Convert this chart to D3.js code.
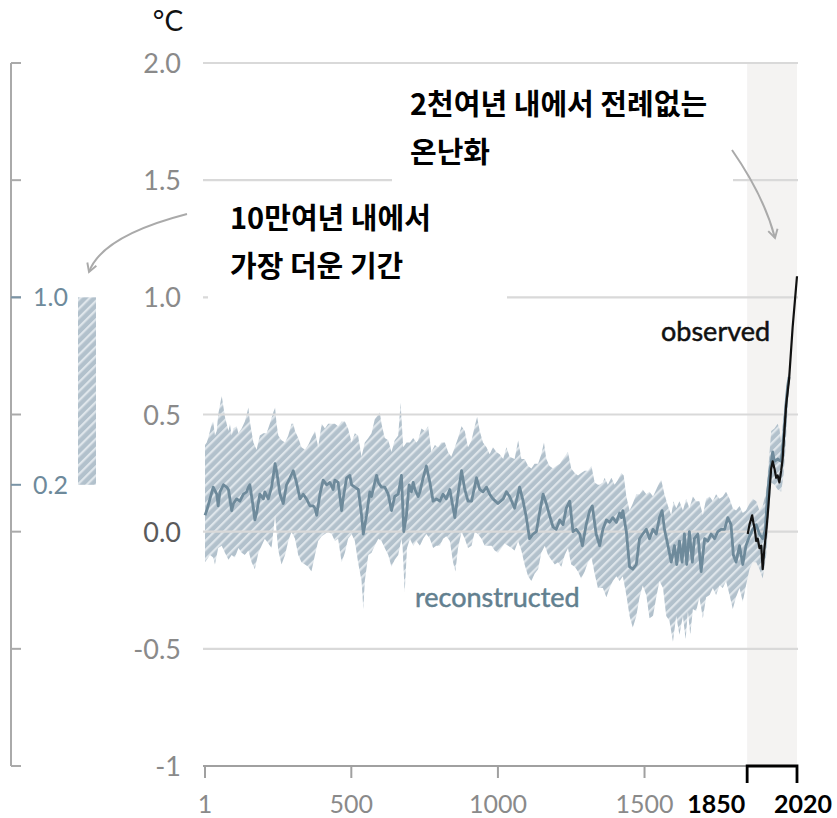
<!DOCTYPE html>
<html>
<head>
<meta charset="utf-8">
<script src="https://cdn.jsdelivr.net/npm/d3@7"></script>
<style>
  html, body { margin: 0; padding: 0; background: #ffffff; }
  svg { display: block; }
</style>
</head>
<body>
<script>
// ---------- data ----------
const yTickValues = [2.0, 1.5, 1.0, 0.5, 0.0, -0.5, -1];
const yTickLabels = ["2.0", "1.5", "1.0", "0.5", "0.0", "-0.5", "-1"];
const xTickValues = [1, 500, 1000, 1500];
const xTickLabels = ["1", "500", "1000", "1500"];
const periodYears = [1850, 2020];
const periodLabels = ["1850", "2020"];
const warmestRange = [0.2, 1.0];       // 10만여년 내 가장 더운 기간
const warmestLabels = ["1.0", "0.2"];

const reconstructed = [
[1,0.07],[7,0.09],[18,0.14],[29,0.19],[41,0.16],[46,0.11],[52,0.17],[64,0.20],[75,0.19],[81,0.18],[92,0.09],[98,0.12],[109,0.14],[120,0.13],[132,0.16],[143,0.17],[149,0.19],[154,0.20],[166,0.10],[171,0.05],[177,0.08],[188,0.16],[200,0.14],[205,0.17],[217,0.14],[228,0.19],[240,0.29],[245,0.26],[257,0.16],[268,0.12],[279,0.20],[291,0.23],[302,0.26],[313,0.21],[325,0.14],[336,0.16],[347,0.14],[359,0.11],[370,0.11],[376,0.10],[382,0.07],[393,0.16],[404,0.22],[416,0.20],[427,0.21],[438,0.18],[444,0.22],[455,0.21],[467,0.09],[472,0.14],[484,0.23],[495,0.24],[501,0.20],[512,0.19],[524,0.18],[535,0.07],[541,-0.01],[552,0.07],[563,0.17],[569,0.15],[580,0.21],[586,0.24],[592,0.21],[603,0.19],[614,0.19],[626,0.16],[637,0.09],[648,0.15],[660,0.16],[671,0.24],
[679,0.00],[688,0.07],[697,0.20],[705,0.17],[711,0.21],[717,0.18],[728,0.15],[734,0.17],[745,0.23],[756,0.28],[768,0.21],[779,0.13],[790,0.14],[802,0.13],[813,0.16],[824,0.14],[836,0.18],[853,0.06],[864,0.16],[876,0.26],[887,0.18],[898,0.13],[910,0.13],[927,0.23],[938,0.18],[949,0.17],[961,0.19],[972,0.16],[983,0.14],[1000,0.12],[1018,0.14],[1029,0.17],[1040,0.15],[1057,0.10],[1074,0.19],[1086,0.13],[1097,0.06],[1108,-0.03],[1120,-0.01],[1131,0.00],[1142,0.08],[1154,0.16],[1165,0.12],[1176,0.07],[1188,0.02],[1199,0.01],[1211,0.05],[1222,0.03],[1233,0.10],[1245,0.13],[1256,0.00],[1267,0.01],[1279,-0.01],[1288,-0.06],[1301,0.03],[1313,0.09],[1322,0.11],[1335,-0.01],
[1347,-0.06],[1358,0.01],[1370,0.05],[1381,0.04],[1392,0.06],[1404,0.04],[1415,0.08],[1421,0.06],[1426,0.09],[1438,0.00],[1449,-0.15],[1460,-0.16],[1472,-0.14],[1483,-0.03],[1494,-0.01],[1506,0.01],[1517,-0.03],[1529,0.01],[1540,-0.01],[1551,0.06],[1560,0.09],[1568,0.01],[1580,-0.06],[1591,-0.13],[1602,-0.06],[1610,-0.14],[1619,-0.04],[1628,-0.13],[1636,-0.01],[1644,-0.14],[1653,0.00],[1663,-0.13],[1670,-0.03],[1682,-0.01],[1693,-0.17],[1705,-0.03],[1716,-0.04],[1727,-0.01],[1739,-0.03],[1750,0.00],[1761,0.01],[1773,0.01],[1784,0.06],[1795,0.03],[1803,-0.10],[1812,-0.13],[1824,-0.06],[1835,-0.14],[1846,-0.06],[1858,-0.02],[1869,0.01],[1881,0.03],[1892,-0.01],[1903,-0.03],[1912,0.01],[1920,0.17],[1928,0.26],[1937,0.34],[1943,0.30],[1954,0.31],[1966,0.30],[1971,0.36],[1977,0.44],[1983,0.55],[1988,0.62],[1993,0.66]
];

const bandUpper = [
[1,0.37],[7,0.38],[12,0.40],[24,0.46],[29,0.47],[35,0.41],[41,0.43],[46,0.50],[58,0.58],[69,0.49],[81,0.43],[86,0.46],[92,0.41],[98,0.44],[109,0.45],[115,0.42],[126,0.44],[137,0.47],[149,0.53],[154,0.47],[166,0.38],[177,0.35],[188,0.41],[200,0.42],[211,0.42],[222,0.46],[234,0.51],[240,0.53],[245,0.46],[251,0.41],[262,0.39],[274,0.38],[285,0.41],[296,0.46],[302,0.46],[308,0.43],[319,0.40],[330,0.36],[342,0.35],[353,0.37],[364,0.40],[376,0.43],[387,0.36],[399,0.46],[410,0.44],[421,0.46],[433,0.46],[444,0.46],[455,0.45],[467,0.47],[478,0.47],[489,0.44],[501,0.38],[512,0.42],[523,0.41],[535,0.32],[546,0.38],[558,0.40],[569,0.42],[580,0.48],[592,0.50],[597,0.51],[603,0.46],[614,0.40],[626,0.39],[637,0.34],[648,0.39],[660,0.41],[668,0.55],
[677,0.36],[688,0.38],[700,0.38],[711,0.40],[722,0.38],[728,0.39],[739,0.44],[751,0.43],[762,0.45],[773,0.34],[785,0.37],[796,0.36],[807,0.38],[819,0.38],[830,0.34],[841,0.32],[853,0.36],[864,0.40],[876,0.45],[887,0.43],[898,0.36],[910,0.39],[921,0.45],[929,0.49],[938,0.43],[949,0.38],[961,0.36],[972,0.33],[983,0.36],[995,0.34],[1006,0.33],[1018,0.31],[1029,0.36],[1040,0.32],[1057,0.31],[1069,0.39],[1080,0.31],[1091,0.31],[1103,0.28],[1114,0.27],[1125,0.29],[1137,0.29],[1148,0.33],[1157,0.38],[1165,0.31],[1176,0.28],[1188,0.27],[1199,0.28],[1211,0.29],[1222,0.31],[1239,0.34],[1250,0.27],[1262,0.25],[1273,0.24],[1284,0.25],[1296,0.26],[1307,0.26],[1319,0.28],[1330,0.21],[1341,0.20],
[1347,0.20],[1358,0.21],[1364,0.23],[1375,0.20],[1387,0.23],[1398,0.20],[1409,0.22],[1421,0.25],[1429,0.24],[1438,0.15],[1449,0.09],[1460,0.12],[1472,0.16],[1483,0.16],[1494,0.18],[1506,0.16],[1517,0.17],[1529,0.15],[1540,0.18],[1551,0.21],[1557,0.22],[1568,0.16],[1580,0.11],[1591,0.07],[1599,0.13],[1608,0.10],[1619,0.13],[1631,0.09],[1642,0.14],[1653,0.10],[1665,0.15],[1676,0.13],[1687,0.13],[1699,0.07],[1710,0.14],[1722,0.15],[1733,0.13],[1744,0.16],[1756,0.14],[1767,0.15],[1778,0.17],[1790,0.14],[1801,0.10],[1812,0.09],[1824,0.11],[1835,0.08],[1846,0.09],[1858,0.12],[1869,0.14],[1881,0.13],[1892,0.09],[1903,0.11],[1915,0.17],[1924,0.30],[1932,0.43],[1943,0.44],[1954,0.46],[1960,0.44],[1966,0.38],[1971,0.46],[1977,0.54],[1985,0.62],[1993,0.68]
];

const bandLower = [
[1,-0.13],[7,-0.12],[18,-0.10],[29,-0.11],[35,-0.14],[46,-0.07],[58,-0.06],[69,-0.09],[81,-0.12],[92,-0.10],[103,-0.11],[115,-0.07],[126,-0.09],[137,-0.10],[149,-0.08],[160,-0.13],[171,-0.16],[183,-0.09],[194,-0.06],[205,-0.03],[217,-0.05],[228,-0.07],[240,0.07],[251,-0.08],[262,-0.14],[274,-0.10],[285,-0.04],[296,0.00],[308,-0.03],[319,-0.10],[330,-0.13],[342,-0.14],[353,-0.15],[364,-0.17],[376,-0.10],[387,-0.04],[399,-0.02],[410,-0.01],[421,0.00],[433,-0.01],[444,-0.04],[455,-0.03],[467,-0.13],[478,-0.09],[489,-0.03],[501,-0.01],[512,-0.04],[523,-0.13],[535,-0.21],[541,-0.33],[546,-0.21],[558,-0.10],[569,-0.09],[580,-0.06],[592,-0.03],[603,-0.04],[614,-0.07],[626,-0.10],[637,-0.15],[648,-0.12],[660,-0.10],[671,-0.03],
[675,-0.07],[682,-0.26],[690,-0.07],[700,-0.03],[711,-0.06],[722,-0.04],[734,-0.06],[745,-0.03],[756,-0.01],[768,-0.03],[779,-0.07],[790,-0.06],[802,-0.06],[813,-0.03],[824,-0.02],[836,-0.04],[847,-0.13],[855,-0.17],[864,-0.07],[876,0.00],[887,-0.03],[898,-0.07],[910,-0.06],[921,0.00],[932,-0.01],[944,-0.03],[955,-0.06],[966,-0.06],[978,-0.06],[989,-0.08],[1000,-0.09],[1012,-0.07],[1023,-0.05],[1035,-0.06],[1046,-0.07],[1057,-0.08],[1069,-0.04],[1080,-0.08],[1091,-0.14],[1103,-0.19],[1114,-0.21],[1125,-0.18],[1137,-0.16],[1148,-0.09],[1160,-0.06],[1171,-0.10],[1182,-0.12],[1194,-0.14],[1205,-0.13],[1216,-0.15],[1228,-0.10],[1239,-0.07],[1250,-0.14],[1262,-0.15],[1273,-0.17],[1284,-0.20],[1296,-0.17],[1307,-0.13],[1319,-0.11],[1330,-0.18],[1341,-0.24],
[1358,-0.24],[1370,-0.28],[1381,-0.24],[1392,-0.21],[1404,-0.19],[1415,-0.21],[1426,-0.19],[1438,-0.27],[1449,-0.36],[1460,-0.41],[1472,-0.36],[1483,-0.28],[1494,-0.23],[1506,-0.27],[1517,-0.37],[1529,-0.36],[1540,-0.28],[1551,-0.21],[1563,-0.24],[1574,-0.36],[1585,-0.38],[1597,-0.47],[1608,-0.36],[1619,-0.44],[1631,-0.36],[1640,-0.46],[1648,-0.34],[1656,-0.44],[1665,-0.33],[1676,-0.34],[1687,-0.28],[1699,-0.37],[1710,-0.28],[1722,-0.27],[1733,-0.24],[1744,-0.27],[1756,-0.23],[1767,-0.24],[1778,-0.21],[1790,-0.27],[1801,-0.33],[1812,-0.28],[1824,-0.24],[1835,-0.30],[1846,-0.23],[1858,-0.16],[1869,-0.13],[1881,-0.13],[1892,-0.16],[1903,-0.20],[1915,-0.10],[1924,0.07],[1932,0.21],[1943,0.20],[1954,0.18],[1966,0.17],[1974,0.24],[1981,0.36],[1987,0.50],[1993,0.63]
];

const observed = [
[1852,-0.01],[1858,0.03],[1867,0.07],[1871,0.04],[1876,0.01],[1881,-0.04],[1886,-0.03],[1892,-0.07],[1898,-0.06],[1903,-0.16],[1909,-0.07],[1915,0.00],[1920,0.07],[1926,0.17],[1932,0.27],[1937,0.30],[1943,0.27],[1949,0.23],[1954,0.24],[1960,0.21],[1966,0.26],[1971,0.31],[1977,0.43],[1983,0.54],[1993,0.65],[2005,0.87],[2020,1.09]
];

const textUpper = ["2천여년 내에서 전례없는", "온난화"];
const textLower = ["10만여년 내에서", "가장 더운 기간"];

// ---------- drawing ----------
const W = 837, H = 818;
const svg = d3.select("body").append("svg").attr("width", W).attr("height", H);
const defs = svg.append("defs");

const pat = defs.append("pattern").attr("id", "hatch")
  .attr("patternUnits", "userSpaceOnUse").attr("width", 6.5).attr("height", 6.5)
  .attr("patternTransform", "rotate(45)");
pat.append("rect").attr("width", 6.5).attr("height", 6.5).attr("fill", "#b2c1cc");
pat.append("rect").attr("width", 2.2).attr("height", 6.5).attr("fill", "#dfe6eb");

defs.append("marker").attr("id", "chev")
  .attr("viewBox", "0 0 10 10").attr("refX", 8).attr("refY", 5)
  .attr("markerWidth", 12).attr("markerHeight", 12).attr("markerUnits", "userSpaceOnUse")
  .attr("orient", "auto")
  .append("path").attr("d", "M1,1 L8,5 L1,9").attr("fill", "none")
  .attr("stroke", "#aaaaaa").attr("stroke-width", 1.6);

const x = d3.scaleLinear().domain([1, 2020]).range([205, 797]);
const y = d3.scaleLinear().domain([-1, 2]).range([766, 63]);

const latin = "Lato, 'Open Sans', sans-serif";

// shaded industrial period
svg.append("rect")
  .attr("x", x(periodYears[0])).attr("y", y(2))
  .attr("width", x(periodYears[1]) - x(periodYears[0]))
  .attr("height", y(-1) - y(2))
  .attr("fill", "#f4f3f2");

// uncertainty band
const line = d3.line().x(d => x(d[0])).y(d => y(d[1]));
const bandPts = bandUpper.concat(bandLower.slice().reverse());
svg.append("path").attr("d", line(bandPts) + "Z").attr("fill", "url(#hatch)");

// gridlines
svg.append("g").selectAll("line").data(yTickValues.filter(v => v > -1)).join("line")
  .attr("x1", 203).attr("x2", x(2020) + 1)
  .attr("y1", d => y(d)).attr("y2", d => y(d))
  .attr("stroke", "#d9d9d9").attr("stroke-width", 2.2);

// white boxes behind annotations
svg.append("rect").attr("x", 392).attr("y", 78).attr("width", 341).attr("height", 114).attr("fill", "#fff");
svg.append("rect").attr("x", 208).attr("y", 196).attr("width", 299).attr("height", 103).attr("fill", "#fff");

// reconstructed line
svg.append("path").attr("d", line(reconstructed)).attr("fill", "none")
  .attr("stroke", "#6e8a9b").attr("stroke-width", 2.8).attr("stroke-linejoin", "round");
// observed line
svg.append("path").attr("d", line(observed)).attr("fill", "none")
  .attr("stroke", "#111").attr("stroke-width", 2.2).attr("stroke-linejoin", "round");

// main y labels
svg.append("g").selectAll("text").data(yTickValues).join("text")
  .attr("x", 181).attr("y", d => y(d) + 10)
  .attr("text-anchor", "end")
  .attr("font-family", latin).attr("font-size", 27)
  .attr("fill", d => d === 0 ? "#5a5a5a" : "#8a8a8a")
  .text((d, i) => yTickLabels[i]);

// °C unit
svg.append("text").attr("x", 168).attr("y", 31).attr("text-anchor", "middle")
  .attr("font-family", latin).attr("font-size", 28).attr("fill", "#111")
  .text("°C");

// x axis
svg.append("line").attr("x1", 203).attr("x2", x(2020) + 1).attr("y1", y(-1)).attr("y2", y(-1))
  .attr("stroke", "#a0a0a0").attr("stroke-width", 2.2);
svg.append("g").selectAll("line").data(xTickValues).join("line")
  .attr("x1", d => x(d)).attr("x2", d => x(d)).attr("y1", y(-1)).attr("y2", y(-1) + 12)
  .attr("stroke", "#a0a0a0").attr("stroke-width", 2);
svg.append("g").selectAll("text").data(xTickValues).join("text")
  .attr("x", d => x(d)).attr("y", 813).attr("text-anchor", "middle")
  .attr("font-family", latin).attr("font-size", 25).attr("fill", "#8a8a8a")
  .text((d, i) => xTickLabels[i]);

// bracket 1850-2020
const bx0 = x(periodYears[0]), bx1 = x(periodYears[1]);
svg.append("path")
  .attr("d", `M${bx0},${y(-1) + 17} V${y(-1)} H${bx1} V${y(-1) + 17}`)
  .attr("fill", "none").attr("stroke", "#000").attr("stroke-width", 2.8);
svg.append("text").attr("x", bx0 - 2).attr("y", 813).attr("text-anchor", "end")
  .attr("font-family", latin).attr("font-weight", 700).attr("font-size", 25).attr("fill", "#000")
  .text(periodLabels[0]);
svg.append("text").attr("x", bx1 + 6).attr("y", 813).attr("text-anchor", "middle")
  .attr("font-family", latin).attr("font-weight", 700).attr("font-size", 25).attr("fill", "#000")
  .text(periodLabels[1]);

// left axis (100,000-year context)
svg.append("line").attr("x1", 11).attr("x2", 11).attr("y1", y(2)).attr("y2", y(-1))
  .attr("stroke", "#aaaaaa").attr("stroke-width", 2);
const leftTicks = yTickValues.concat(warmestRange);
svg.append("g").selectAll("line").data(leftTicks).join("line")
  .attr("x1", 11).attr("x2", 21).attr("y1", d => y(d)).attr("y2", d => y(d))
  .attr("stroke", (d, i) => i >= yTickValues.length ? "#7a94a6" : "#aaaaaa").attr("stroke-width", 2);
svg.append("g").selectAll("text").data(warmestRange.slice().reverse()).join("text")
  .attr("x", 68).attr("y", d => y(d) + 9).attr("text-anchor", "end")
  .attr("font-family", latin).attr("font-size", 25).attr("fill", "#6e8a9b")
  .text((d, i) => warmestLabels[i]);
svg.append("rect").attr("x", 78).attr("y", y(warmestRange[1]))
  .attr("width", 18).attr("height", y(warmestRange[0]) - y(warmestRange[1]))
  .attr("fill", "url(#hatch)");

// series labels
svg.append("text").attr("x", 661).attr("y", 341)
  .attr("font-family", latin).attr("font-size", 27).attr("fill", "#111")
  .attr("stroke", "#111").attr("stroke-width", 0.5)
  .text("observed");
svg.append("text").attr("x", 415).attr("y", 607)
  .attr("font-family", latin).attr("font-size", 27).attr("fill", "#62808f")
  .attr("stroke", "#62808f").attr("stroke-width", 0.5)
  .text("reconstructed");

// annotations
const kfont = "'Noto Sans CJK KR', 'Noto Sans', sans-serif";
svg.append("g").selectAll("text").data(textUpper).join("text")
  .attr("x", 410).attr("y", (d, i) => 115 + i * 48)
  .attr("font-family", kfont).attr("font-weight", 700).attr("font-size", 29).attr("fill", "#000")
  .text(d => d);
svg.append("g").selectAll("text").data(textLower).join("text")
  .attr("x", 230).attr("y", (d, i) => 229 + i * 48)
  .attr("font-family", kfont).attr("font-weight", 700).attr("font-size", 29).attr("fill", "#000")
  .text(d => d);

// arrows
svg.append("path").attr("d", "M187,214 Q102,236 89,272")
  .attr("fill", "none").attr("stroke", "#aaaaaa").attr("stroke-width", 2).attr("marker-end", "url(#chev)");
svg.append("path").attr("d", "M732,150 Q764,196 775,238")
  .attr("fill", "none").attr("stroke", "#aaaaaa").attr("stroke-width", 2).attr("marker-end", "url(#chev)");
</script>
</body>
</html>
